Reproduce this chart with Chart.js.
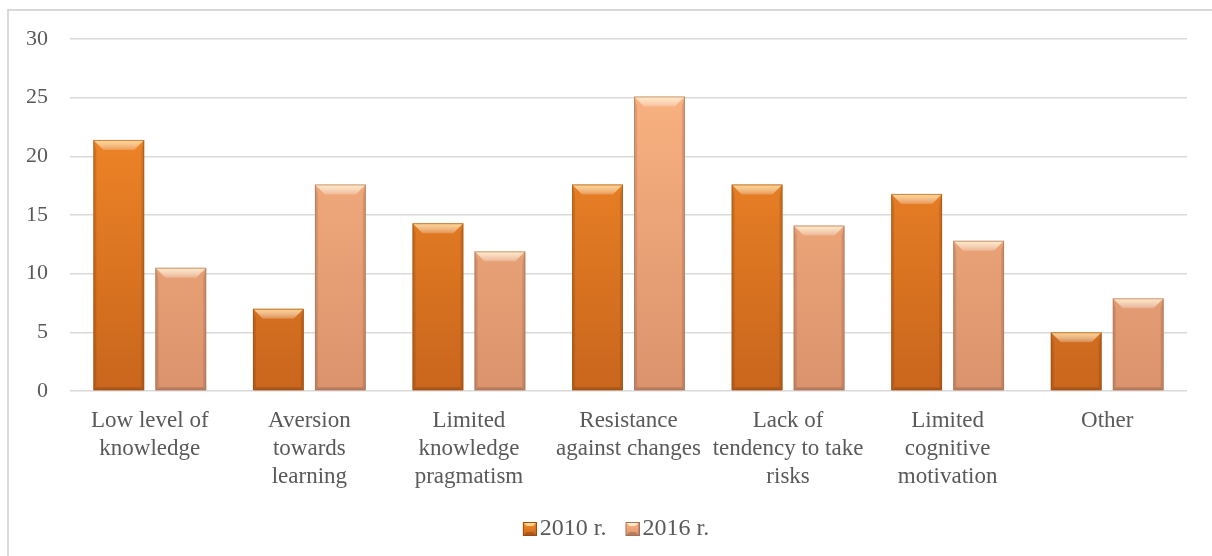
<!DOCTYPE html>
<html>
<head>
<meta charset="utf-8">
<script src="https://cdn.jsdelivr.net/npm/chart.js@4/dist/chart.umd.min.js"></script>
<style>
  html, body { margin: 0; padding: 0; background: #ffffff; }
  #wrap { position: relative; width: 1212px; height: 556px; overflow: hidden; }
  #frame { position: absolute; left: 7px; top: 9px; right: -4px; bottom: -4px;
           border-top: 2px solid #d9d9d9; border-left: 2px solid #d9d9d9; }
  canvas { position: absolute; left: 0; top: 0; }
</style>
</head>
<body>
<div id="wrap">
  <div id="frame"></div>
  <canvas id="chart" width="1212" height="556"></canvas>
</div>
<script>
// Reasons for low innovation activity, share of answers (%)
const categories = [
  ['Low level of', 'knowledge'],
  ['Aversion', 'towards', 'learning'],
  ['Limited', 'knowledge', 'pragmatism'],
  ['Resistance', 'against changes'],
  ['Lack of', 'tendency to take', 'risks'],
  ['Limited', 'cognitive', 'motivation'],
  ['Other']
];
const seriesNames = ['2010 r.', '2016 r.'];
const values2010 = [21.4, 7.0, 14.3, 17.6, 17.6, 16.8, 5.0];
const values2016 = [10.5, 17.6, 11.9, 25.1, 14.1, 12.8, 7.9];
const yTicks = [0, 5, 10, 15, 20, 25, 30];

const FONT = "'Liberation Serif', 'Times New Roman', serif";
const TEXT = '#595959';

// colour ramps for the two series: top, bottom, edge, bevel highlight
const palettes = [
  { top: '#fa8e2a', bottom: '#c9661d', edge: '#9c4c10', hi: '#ffd58c' },
  { top: '#feb684', bottom: '#da936c', edge: '#a8705a', hi: '#ffebc4' }
];

function fillFor(idx) {
  return function (ctx) {
    const chart = ctx.chart;
    const area = chart.chartArea;
    if (!area) return palettes[idx].top;
    const g = chart.ctx.createLinearGradient(0, area.top, 0, area.bottom);
    g.addColorStop(0, palettes[idx].top);
    g.addColorStop(1, palettes[idx].bottom);
    return g;
  };
}

// bevelled square used as the legend marker; it sits at the right end of
// a wider transparent image so that it hugs the label text
function legendSwatch(p) {
  const c = document.createElement('canvas');
  c.width = 32; c.height = 14;
  const x = c.getContext('2d');
  x.translate(18, 0);
  const g = x.createLinearGradient(0, 0, 0, 14);
  g.addColorStop(0, p.top); g.addColorStop(1, p.bottom);
  x.fillStyle = g; x.fillRect(0, 0, 14, 14);
  x.fillStyle = p.hi;
  x.beginPath(); x.moveTo(0, 0); x.lineTo(14, 0); x.lineTo(10, 4); x.lineTo(4, 4); x.closePath(); x.fill();
  x.fillStyle = 'rgba(0,0,0,0.18)';
  x.beginPath(); x.moveTo(0, 14); x.lineTo(14, 14); x.lineTo(10, 10); x.lineTo(4, 10); x.closePath(); x.fill();
  x.strokeStyle = p.edge; x.lineWidth = 1; x.strokeRect(0.5, 0.5, 13, 13);
  return c;
}
const swatches = palettes.map(legendSwatch);

// bevel shading drawn over every bar element the library laid out
const bevelPlugin = {
  id: 'bevel',
  afterDatasetsDraw(chart) {
    const ctx = chart.ctx;
    chart.data.datasets.forEach((ds, i) => {
      const p = palettes[i];
      chart.getDatasetMeta(i).data.forEach(bar => {
        const { x, y, base, width } = bar.getProps(['x', 'y', 'base', 'width'], true);
        const l = x - width / 2, r = x + width / 2, t = y, b = base;
        const d = Math.min(10, (b - t) / 3);
        ctx.save();
        // top facet
        const tg = ctx.createLinearGradient(0, t, 0, t + d);
        tg.addColorStop(0, p.hi);
        tg.addColorStop(1, 'rgba(255,255,255,0.2)');
        ctx.fillStyle = tg;
        ctx.beginPath();
        ctx.moveTo(l, t); ctx.lineTo(r, t); ctx.lineTo(r - d, t + d); ctx.lineTo(l + d, t + d);
        ctx.closePath(); ctx.fill();
        // side facets
        ctx.fillStyle = 'rgba(0,0,0,0.10)';
        ctx.beginPath();
        ctx.moveTo(l, t); ctx.lineTo(l + 3, t + d); ctx.lineTo(l + 3, b - 3); ctx.lineTo(l, b);
        ctx.closePath(); ctx.fill();
        ctx.beginPath();
        ctx.moveTo(r, t); ctx.lineTo(r - 3, t + d); ctx.lineTo(r - 3, b - 3); ctx.lineTo(r, b);
        ctx.closePath(); ctx.fill();
        // bottom facet
        ctx.fillStyle = 'rgba(0,0,0,0.14)';
        ctx.beginPath();
        ctx.moveTo(l, b); ctx.lineTo(r, b); ctx.lineTo(r - 3, b - 3); ctx.lineTo(l + 3, b - 3);
        ctx.closePath(); ctx.fill();
        // outline
        ctx.strokeStyle = p.edge;
        ctx.globalAlpha = 0.6;
        ctx.lineWidth = 1;
        ctx.strokeRect(l + 0.5, t + 0.5, width - 1, b - t - 1);
        ctx.restore();
      });
    });
  }
};

// nudges the legend row to the right of its default centred spot
const legendShift = {
  id: 'legendShift',
  afterLayout(chart) {
    const lg = chart.legend;
    if (lg) { lg.left += 18; lg.right += 18; }
  }
};

new Chart(document.getElementById('chart'), {
  type: 'bar',
  data: {
    labels: categories,
    datasets: [
      { label: seriesNames[0], data: values2010, backgroundColor: fillFor(0), borderWidth: 0 },
      { label: seriesNames[1], data: values2016, backgroundColor: fillFor(1), borderWidth: 0 }
    ]
  },
  options: {
    responsive: false,
    animation: false,
    categoryPercentage: 0.777,
    barPercentage: 0.82,
    layout: { padding: { top: 39, right: 25, bottom: 5, left: 0 } },
    plugins: {
      tooltip: { enabled: false },
      legend: {
        position: 'bottom',
        labels: {
          font: { family: FONT, size: 24 },
          color: TEXT,
          usePointStyle: true,
          boxWidth: 14,
          boxHeight: 14,
          padding: 10,
          generateLabels(chart) {
            return chart.data.datasets.map((ds, i) => ({
              text: ds.label,
              pointStyle: swatches[i],
              fillStyle: palettes[i].top,
              strokeStyle: palettes[i].edge,
              lineWidth: 0,
              hidden: false,
              datasetIndex: i,
              fontColor: TEXT
            }));
          }
        }
      }
    },
    scales: {
      x: {
        grid: { display: false },
        border: { display: false },
        ticks: {
          color: TEXT,
          font: { family: FONT, size: 23, lineHeight: 1.22 },
          padding: 8,
          maxRotation: 0,
          autoSkip: false
        },
        afterFit(scale) { scale.height = 116; }
      },
      y: {
        min: 0,
        max: 30,
        afterBuildTicks(scale) { scale.ticks = yTicks.map(v => ({ value: v })); },
        grid: { color: '#d9d9d9', lineWidth: 1.5, drawTicks: false },
        border: { display: false },
        ticks: {
          color: TEXT,
          font: { family: FONT, size: 22 },
          padding: 22
        },
        afterFit(scale) { scale.width = 70; }
      }
    }
  },
  plugins: [bevelPlugin, legendShift]
});
</script>
</body>
</html>
